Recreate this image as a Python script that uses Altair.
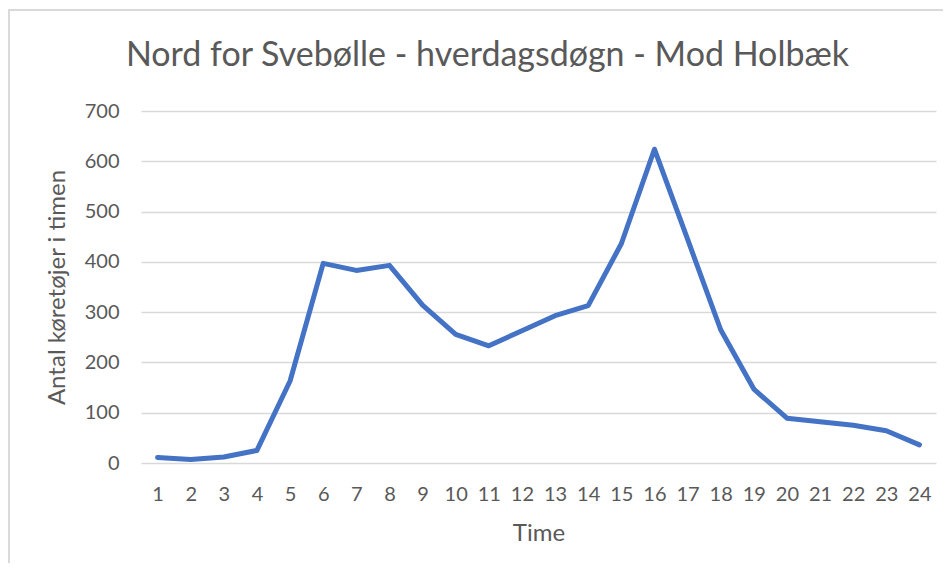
import altair as alt
import pandas as pd

hours = [str(h) for h in range(1, 25)]
counts = [11, 7, 12, 25, 163, 397, 383, 393, 314, 256, 233, 263,
          293, 313, 436, 624, 445, 265, 147, 89, 82, 75, 64, 36]
y_ticks = [0, 100, 200, 300, 400, 500, 600, 700]

title_text = "Nord for Svebølle - hverdagsdøgn - Mod Holbæk"
x_title = "Time"
y_title = "Antal køretøjer i timen"

df = pd.DataFrame({"Time": hours, "Antal": counts})

FONT = "Lato"
GRAY = "#595959"
GRID = "#d9d9d9"
W, H = 795, 352

line = alt.Chart(df).mark_line(
    color="#4472C4", strokeWidth=5, strokeJoin="round", strokeCap="round"
).encode(
    x=alt.X("Time:O", sort=hours, scale=alt.Scale(type="point", padding=0.5),
            axis=alt.Axis(title=x_title, labelAngle=0, ticks=False, tickSize=0,
                          domain=False, labelPadding=21, labelFontSize=20,
                          labelColor=GRAY, labelFont=FONT,
                          titleFont=FONT, titleFontSize=24, titleColor=GRAY,
                          titleFontWeight="normal", titleX=W / 2, titleY=70,
                          titleBaseline="middle")),
    y=alt.Y("Antal:Q", scale=alt.Scale(domain=[0, 700], nice=False),
            axis=alt.Axis(title=y_title, values=y_ticks, ticks=False, tickSize=0,
                          domain=False, labelPadding=22, labelFontSize=20,
                          labelColor=GRAY, labelFont=FONT,
                          gridColor=GRID, gridWidth=1.3,
                          titleFont=FONT, titleFontSize=24, titleColor=GRAY,
                          titleFontWeight="normal", titleX=-84, titleY=H / 2,
                          titleAngle=270, titleAlign="center",
                          titleBaseline="middle")),
)

border_top = alt.Chart(df).mark_rule(color=GRID, strokeWidth=1.5).encode(
    x=alt.value(-133), x2=alt.value(W + 10), y=alt.value(-101)
)
border_left = alt.Chart(df).mark_rule(color=GRID, strokeWidth=1.5).encode(
    x=alt.value(-132.5), y=alt.value(-101), y2=alt.value(H + 110)
)

chart = alt.layer(border_top, border_left, line).properties(
    width=W, height=H,
    title=alt.TitleParams(title_text, font=FONT, fontSize=34, fontWeight="normal",
                          color=GRAY, anchor="middle", dx=-51, offset=-91,
                          baseline="alphabetic"),
    autosize=alt.AutoSizeParams(type="none"),
    padding={"left": 133, "top": 103, "right": 7, "bottom": 100},
).configure_view(stroke=None)

chart.save("out.html", embed_options={"renderer": "svg", "actions": False})
